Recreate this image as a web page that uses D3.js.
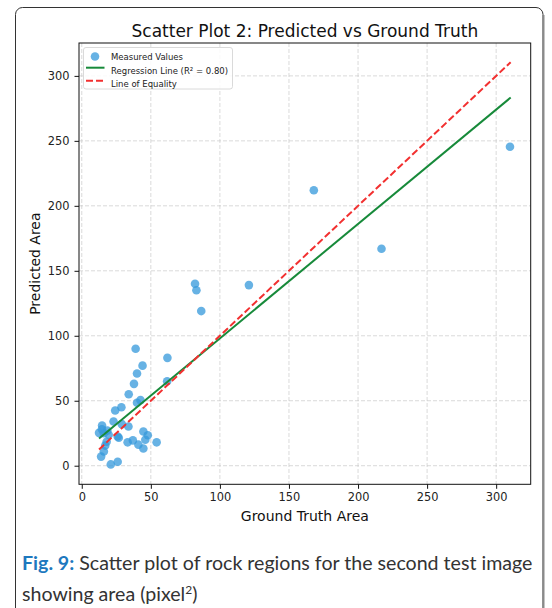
<!DOCTYPE html>
<html>
<head>
<meta charset="utf-8">
<script src="https://cdn.jsdelivr.net/npm/d3@7"></script>
<style>
  body { margin: 0; background: #fff; }
  svg { display: block; font-family: "DejaVu Sans", sans-serif; }
</style>
</head>
<body>
<div id="graphic"></div>
<script>
// data
const gtArea = [310, 217, 168, 82, 83, 86.5, 121,
    39, 62, 44, 40, 37.8, 61.8, 34, 40, 42.5, 24.2, 28.7, 23,
    14.7, 14.6, 12.5, 18.5, 19.5, 26.8, 26, 33.8, 44.6, 47.8, 46,
    37, 33.2, 41, 44.6, 54.2, 18, 17, 16, 14, 21, 26, 16, 29];
const predArea = [245.5, 167, 212, 140, 135, 119, 139,
    90, 83, 77, 71, 63, 65, 55, 48.5, 50.5, 42.5, 45, 34,
    31, 28, 25.3, 27, 23.8, 21.5, 22.5, 30.2, 26.3, 23.5, 20,
    19.5, 18, 16.2, 13.2, 18, 18.5, 15.5, 11, 7, 1, 3, 25, 32];

// regression fit and y = x line, as end points
const regX = [12.5, 310.5];
const regY = [21, 283.3];
const eqX = [12.5, 310.5];
const eqY = [12.5, 310.5];

const xTicks = [0, 50, 100, 150, 200, 250, 300];
const yTicks = [0, 50, 100, 150, 200, 250, 300];

const W = 552, H = 608;
const margin = {top: 43, right: 21.3, bottom: 123.7, left: 79};
const width = W - margin.left - margin.right;
const height = H - margin.top - margin.bottom;

const svg = d3.select("#graphic")
    .append("svg")
    .attr("width", W)
    .attr("height", H);

// card border
svg.append("rect")
    .attr("x", 15.5).attr("y", 7.5)
    .attr("width", 527.5).attr("height", 640)
    .attr("rx", 7)
    .attr("fill", "none")
    .attr("stroke", "#333")
    .attr("stroke-width", 1);
svg.append("line")
    .attr("x1", 543.5).attr("x2", 543.5)
    .attr("y1", 15).attr("y2", H)
    .attr("stroke", "#8a8a8a")
    .attr("stroke-width", 2);

const g = svg.append("g")
    .attr("transform", `translate(${margin.left}, ${margin.top})`);

const x = d3.scaleLinear().domain([-2, 325]).range([0, width]);
const y = d3.scaleLinear().domain([-14.3, 325.3]).range([height, 0]);

// grid
const grid = g.append("g").attr("class", "grid");
grid.selectAll("line.gx")
    .data(xTicks)
    .enter().append("line")
        .attr("x1", d => x(d)).attr("x2", d => x(d))
        .attr("y1", 0).attr("y2", height);
grid.selectAll("line.gy")
    .data(yTicks)
    .enter().append("line")
        .attr("class", "gy")
        .attr("x1", 0).attr("x2", width)
        .attr("y1", d => y(d)).attr("y2", d => y(d));
grid.selectAll("line")
    .attr("stroke", "#c4c4c4")
    .attr("stroke-opacity", 0.8)
    .attr("stroke-width", 0.8)
    .attr("stroke-dasharray", "4,2");

// points
g.append("g")
    .selectAll("circle")
    .data(gtArea.map((d, i) => [d, predArea[i]]))
    .enter().append("circle")
        .attr("cx", d => x(d[0]))
        .attr("cy", d => y(d[1]))
        .attr("r", 4.3)
        .attr("fill", "#3498db")
        .attr("fill-opacity", 0.75);

const line = d3.line().x(d => x(d[0])).y(d => y(d[1]));

g.append("path")
    .datum(regX.map((d, i) => [d, regY[i]]))
    .attr("fill", "none")
    .attr("stroke", "#178a3a")
    .attr("stroke-width", 2)
    .attr("d", line);

g.append("path")
    .datum(eqX.map((d, i) => [d, eqY[i]]))
    .attr("fill", "none")
    .attr("stroke", "#f23030")
    .attr("stroke-width", 2)
    .attr("stroke-dasharray", "7,3")
    .attr("d", line);

// frame
g.append("rect")
    .attr("width", width).attr("height", height)
    .attr("fill", "none")
    .attr("stroke", "#111")
    .attr("stroke-width", 1);

// axes
const xAxis = g.append("g")
    .attr("transform", `translate(0, ${height})`)
    .call(d3.axisBottom(x).tickValues(xTicks).tickSize(4.5).tickPadding(4));
const yAxis = g.append("g")
    .call(d3.axisLeft(y).tickValues(yTicks).tickSize(4.5).tickPadding(5));
[xAxis, yAxis].forEach(a => {
    a.select(".domain").remove();
    a.selectAll("line").attr("stroke", "#111");
    a.selectAll("text")
        .attr("fill", "#222")
        .style("font", "11.4px 'DejaVu Sans'");
});

// titles
g.append("text")
    .attr("x", width / 2).attr("y", -6.5)
    .attr("text-anchor", "middle")
    .attr("fill", "#111")
    .style("font-size", "17px")
    .text("Scatter Plot 2: Predicted vs Ground Truth");

g.append("text")
    .attr("x", width / 2).attr("y", height + 36.5)
    .attr("text-anchor", "middle")
    .attr("fill", "#111")
    .style("font-size", "14px")
    .text("Ground Truth Area");

g.append("text")
    .attr("transform", `translate(${40 - margin.left}, ${height / 2}) rotate(-90)`)
    .attr("text-anchor", "middle")
    .attr("fill", "#111")
    .style("font-size", "14px")
    .text("Predicted Area");

// legend
const legend = svg.append("g").attr("transform", "translate(83.5, 47.5)");
legend.append("rect")
    .attr("width", 149).attr("height", 41.5)
    .attr("rx", 2.5)
    .attr("fill", "#fff").attr("fill-opacity", 0.85)
    .attr("stroke", "#d0d0d0").attr("stroke-width", 0.8);
legend.append("circle")
    .attr("cx", 11.5).attr("cy", 9)
    .attr("r", 4.3)
    .attr("fill", "#3498db").attr("fill-opacity", 0.75);
legend.append("line")
    .attr("x1", 2.5).attr("x2", 21).attr("y1", 20.2).attr("y2", 20.2)
    .attr("stroke", "#178a3a").attr("stroke-width", 2);
legend.append("line")
    .attr("x1", 2.5).attr("x2", 21).attr("y1", 33.2).attr("y2", 33.2)
    .attr("stroke", "#f23030").attr("stroke-width", 2)
    .attr("stroke-dasharray", "7,3");
const legendLabels = ["Measured Values", "Regression Line (R\u00b2 = 0.80)", "Line of Equality"];
legend.selectAll("text.lab")
    .data(legendLabels)
    .enter().append("text")
        .attr("x", 27.5)
        .attr("y", (d, i) => 10 + i * 13.1 + 2.9)
        .attr("fill", "#222")
        .style("font-size", "8.5px")
        .text(d => d);

// caption
const cap = svg.append("g").style("font-family", "Lato, 'Open Sans', sans-serif");
const l1 = cap.append("text")
    .attr("x", 22).attr("y", 570)
    .style("font-size", "19.6px")
    .attr("fill", "#333");
l1.append("tspan")
    .attr("fill", "#1d78be").attr("font-weight", "bold")
    .text("Fig. 9:");
l1.append("tspan")
    .text(" Scatter plot of rock regions for the second test image");
const l2 = cap.append("text")
    .attr("x", 22).attr("y", 601)
    .style("font-size", "19.6px")
    .attr("fill", "#333");
l2.append("tspan").text("showing area (pixel");
l2.append("tspan").attr("dy", -7).style("font-size", "12px").text("2");
l2.append("tspan").attr("dy", 7).text(")");
</script>
</body>
</html>
